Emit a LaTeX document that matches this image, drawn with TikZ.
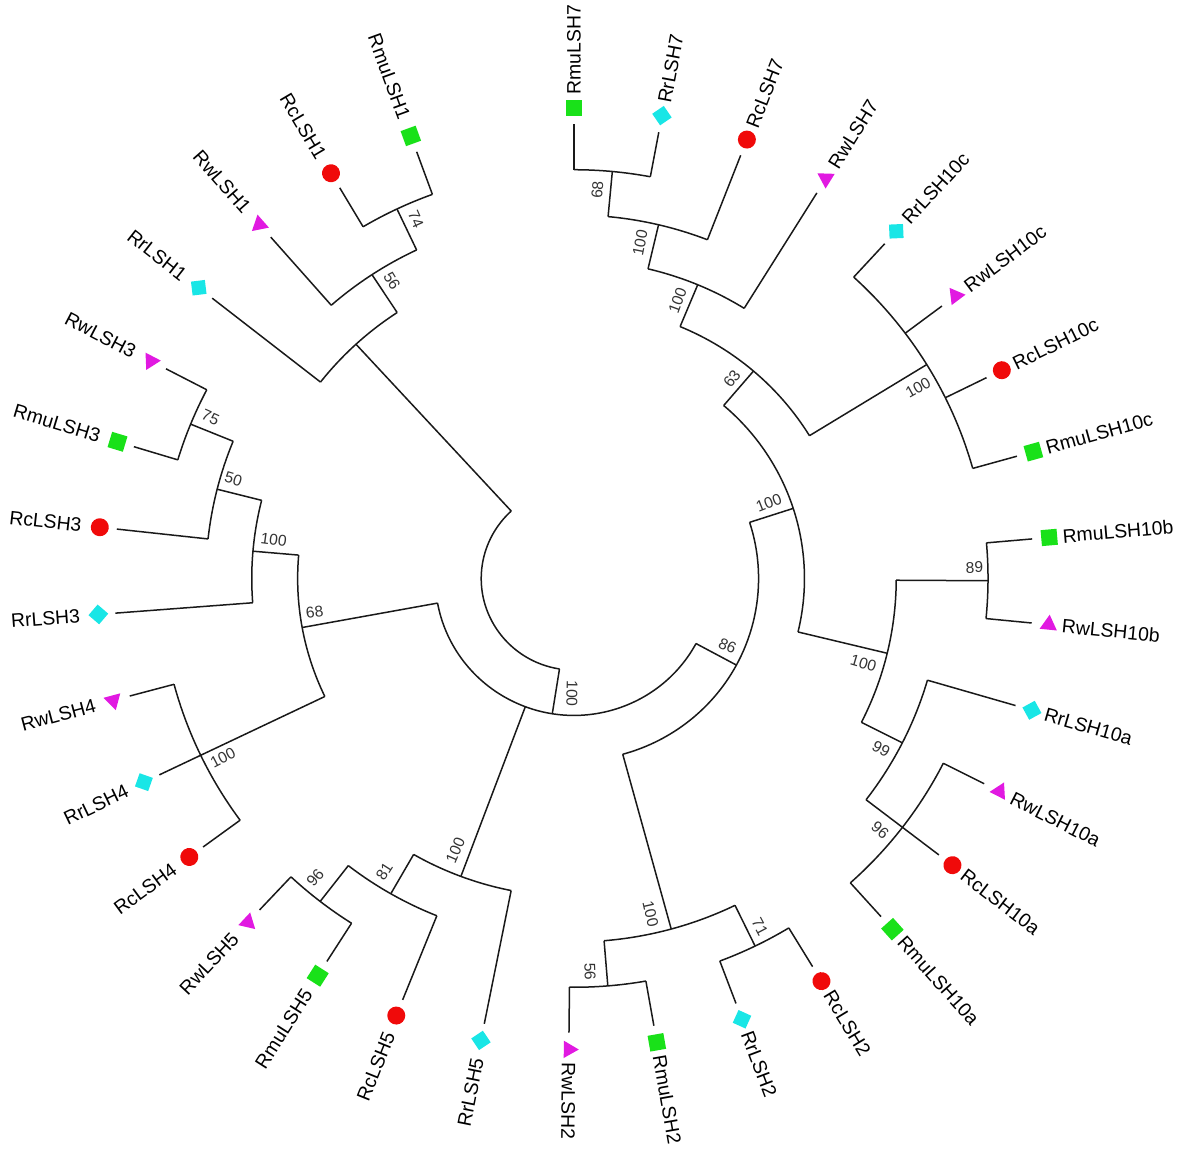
\documentclass[tikz,border=0pt]{standalone}
\usepackage{fontspec}
\setmainfont{Liberation Sans}
\usetikzlibrary{shapes.geometric}
\definecolor{rcred}{RGB}{240,10,10}
\definecolor{rmugreen}{RGB}{25,225,25}
\definecolor{rrcyan}{RGB}{25,230,230}
\definecolor{rwmagenta}{RGB}{225,25,225}
\tikzset{
  branch/.style={line width=0.75pt, color=black!90},
  leaflabel/.style={font=\fontsize{9.7}{11}\selectfont, inner sep=0pt},
  bootlabel/.style={font=\fontsize{7.8}{9}\selectfont, text=black!80, inner sep=0pt},
  Rc/.style={circle, fill=rcred, minimum size=9pt, inner sep=0pt},
  Rmu/.style={rectangle, fill=rmugreen, minimum size=8pt, inner sep=0pt},
  Rr/.style={rectangle, fill=rrcyan, minimum size=7pt, inner sep=0pt, rotate=45},
  Rw/.style={regular polygon, regular polygon sides=3, fill=rwmagenta, minimum size=10pt, inner sep=0pt},
}

\begin{document}
\begin{tikzpicture}[x=0.5032pt, y=0.4968pt]
\useasboundingbox (-287pt,-285.75pt) rectangle (303.5pt,289.25pt);

\coordinate (root) at (-163.2:92.2);
\draw[branch] (-99.0087:92.2) arc[start angle=-99.0087, end angle=-227.421875, radius=92.2];

\foreach \n/\a/\h/\ph/\s/\e in {
  c68/84.6875/1/2/90/79.375,
  c7b/76.71875/2/3/84.6875/68.75,
  c7/67.421875/3/4/76.71875/58.125,
  c10c/31.5625/1/4/47.5/15.625,
  c63/49.4921875/4/5/67.421875/31.5625,
  c89/-0.3125/1/3/5/-5.625,
  c96a/-37.5/1/2/-26.875/-48.125,
  c99/-26.875/2/3/-16.25/-37.5,
  c10ab/-13.59375/3/5/-0.3125/-26.875,
  cR/17.94921875/5/6/49.4921875/-13.59375,
  c56b/-85.3125/1/2/-80/-90.625,
  c71/-64.0625/1/2/-58.75/-69.375,
  c2/-74.6875/2/6/-64.0625/-85.3125,
  c86/-28.369/6/7/17.94921875/-74.6875,
  c96b/-127.8125/1/2/-122.5/-133.125,
  c81/-119.84375/2/3/-111.875/-127.8125,
  c5/-110.546875/3/7/-101.25/-119.84375,
  c4/-154.375/1/4/-143.75/-165,
  c75/-202.1875/1/2/-196.875/-207.5,
  c50/-194.21875/2/3/-186.25/-202.1875,
  c3/-184.921875/3/4/-175.625/-194.21875,
  c68b/-169.6484/4/7/-154.375/-184.921875,
  cB/-99.0087/7/8/-28.369/-169.6484,
  c74/-244.6875/1/2/-239.375/-250,
  c56a/-236.71875/2/3/-228.75/-244.6875,
  c1/-227.421875/3/8/-218.125/-236.71875}{
  \pgfmathsetmacro\rn{457-45.6*\h}
  \pgfmathsetmacro\rp{457-45.6*\ph}
  \coordinate (\n) at (\a:\rn);
  \coordinate (\n-b) at (\a:\rp);
  \draw[branch] (\n-b) -- (\n);
  \draw[branch] (\s:\rn) arc[start angle=\s, end angle=\e, radius=\rn];
}

\foreach \lf/\k/\mk/\ph in {
  RmuLSH7/0/Rmu/1, RrLSH7/1/Rr/1, RcLSH7/2/Rc/2, RwLSH7/3/Rw/3,
  RrLSH10c/4/Rr/1, RwLSH10c/5/Rw/1, RcLSH10c/6/Rc/1, RmuLSH10c/7/Rmu/1,
  RmuLSH10b/8/Rmu/1, RwLSH10b/9/Rw/1,
  RrLSH10a/10/Rr/2, RwLSH10a/11/Rw/1, RcLSH10a/12/Rc/1, RmuLSH10a/13/Rmu/1,
  RcLSH2/14/Rc/1, RrLSH2/15/Rr/1, RmuLSH2/16/Rmu/1, RwLSH2/17/Rw/1,
  RrLSH5/18/Rr/3, RcLSH5/19/Rc/2, RmuLSH5/20/Rmu/1, RwLSH5/21/Rw/1,
  RcLSH4/22/Rc/1, RrLSH4/23/Rr/1, RwLSH4/24/Rw/1,
  RrLSH3/25/Rr/3, RcLSH3/26/Rc/2, RmuLSH3/27/Rmu/1, RwLSH3/28/Rw/1,
  RrLSH1/29/Rr/3, RwLSH1/30/Rw/2, RcLSH1/31/Rc/1, RmuLSH1/32/Rmu/1}{
  \pgfmathsetmacro\a{90-10.625*\k}
  \pgfmathsetmacro\rp{457-45.6*\ph}
  \coordinate (\lf) at (\a:457);
  \coordinate (\lf-b) at (\a:\rp);
  \draw[branch] (\lf-b) -- (\lf);
  \node[\mk, rotate=\a] (\lf-m) at (\a:474) {};
  \ifdim\a pt<-100pt
    \node[leaflabel, anchor=east, rotate=\a+180] (\lf-t) at (\a:492) {\lf};
  \else
    \node[leaflabel, anchor=west, rotate=\a] (\lf-t) at (\a:487) {\lf};
  \fi
}

\foreach \a/\rad/\bv [count=\i] in {
  86.6/392/68, 79.0/344/100, 69.8/298/100, 52.0/255/63, 29.3/392/100,
  21.5/208/100, -16.5/300/100, 1.6/398/89, -29.3/350/99, -39.8/396/96,
  -24/167/86, -77.3/346/100, -87.7/396/56, -62.2/396/71, -91/116/100,
  -113.3/298/100, -122.6/350/81, -130.5/396/96, -152.6/393/100,
  -172.5/260/68, -187.5/301/100, -196.5/353/50, -204.2/396/75,
  -238.9/350/56, -246.5/394/74}{
  \ifdim\a pt<-100pt
    \node[bootlabel, rotate=\a+180] (bs\i) at (\a:\rad) {\bv};
  \else
    \node[bootlabel, rotate=\a] (bs\i) at (\a:\rad) {\bv};
  \fi
}

\end{tikzpicture}
\end{document}
